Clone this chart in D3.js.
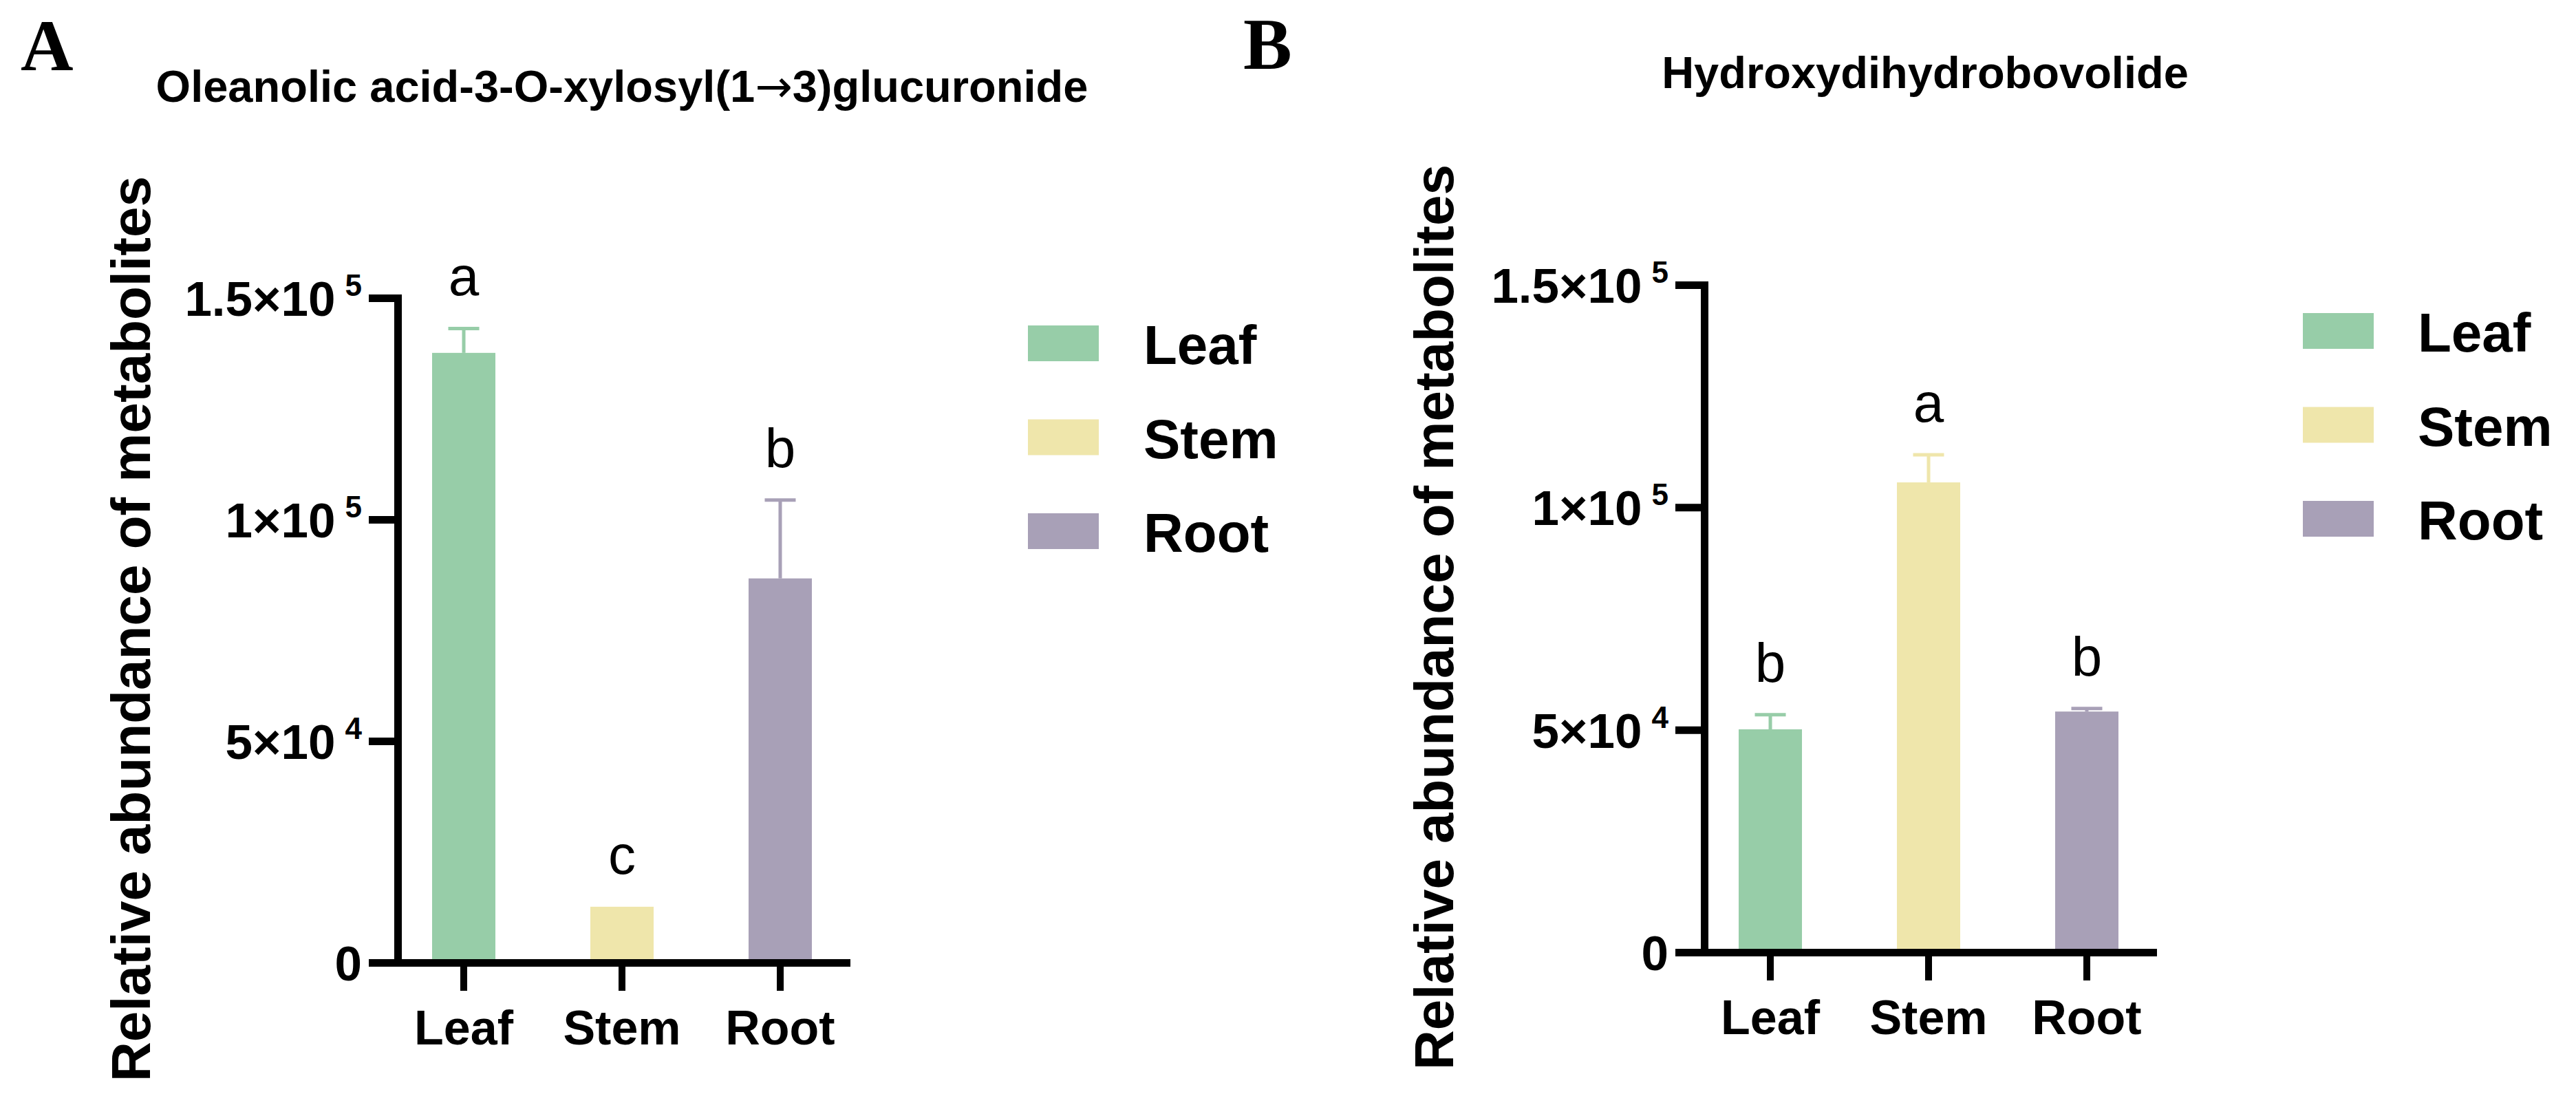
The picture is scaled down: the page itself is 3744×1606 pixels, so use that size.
<!DOCTYPE html>
<html><head><meta charset="utf-8">
<script src="https://cdn.jsdelivr.net/npm/d3@7"></script>
<style>html,body{margin:0;padding:0;background:#fff;} svg{display:block;}</style>
</head><body>
<svg id="chart" width="3744" height="1606"></svg>
<script>
const categories = ["Leaf", "Stem", "Root"];
const barColors = ["#97cda8", "#efe6ab", "#a8a0b7"];
const panelLetters = ["A", "B"];
const panelTitles = ["Oleanolic acid-3-O-xylosyl(1→3)glucuronide", "Hydroxydihydrobovolide"];
const yAxisTitle = "Relative abundance of metabolites";
const yTickValues = [0, 50000, 100000, 150000];
const yTickBase = ["0", "5×10", "1×10", "1.5×10"];
const yTickExp = ["", "4", "5", "5"];
const meansA = [137600, 12600, 86700];
const errorsA = [5500, 0, 17700];
const sigA = ["a", "c", "b"];
const meansB = [50100, 105600, 54100];
const errorsB = [3300, 6200, 700];
const sigB = ["b", "a", "b"];

const svg = d3.select("#chart");
svg.append("rect").attr("width", 3744).attr("height", 1606).attr("fill", "#fff");
const SANS = "'Liberation Sans', Arial, Helvetica, sans-serif";
const SERIF = "'Liberation Serif', 'Times New Roman', serif";

const layouts = [
  {axisX: 578, y0: 1399, yTop: 433, titleY: 148, titleX: 904, letterX: 30, letterY: 102, legX: 1494, legTextX: 1662, legY: 473, yTitleX: 218},
  {axisX: 2477, y0: 1384, yTop: 414, titleY: 128, titleX: 2798, letterX: 1807, letterY: 100, legX: 3347, legTextX: 3514, legY: 455, yTitleX: 2112}
];
const panels = [
  {means: meansA, errors: errorsA, sig: sigA},
  {means: meansB, errors: errorsB, sig: sigB}
];

panels.forEach((p, pi) => {
  const L = layouts[pi];
  const g = svg.append("g");
  const y = d3.scaleLinear().domain([0, 150000]).range([L.y0, L.yTop]);
  const x = d3.scaleBand().domain(categories).range([L.axisX, L.axisX + 652])
    .paddingInner(0.6).paddingOuter(0.2175);
  const bw = x.bandwidth();

  g.selectAll("rect.bar").data(categories).enter().append("rect")
    .attr("class", "bar")
    .attr("x", d => x(d)).attr("width", bw)
    .attr("y", (d, i) => y(p.means[i]))
    .attr("height", (d, i) => L.y0 - y(p.means[i]))
    .attr("fill", (d, i) => barColors[i]);

  categories.forEach((c, i) => {
    const e = p.errors[i];
    if (e <= 0) return;
    const cx = x(c) + bw / 2;
    g.append("line").attr("x1", cx).attr("x2", cx)
      .attr("y1", y(p.means[i])).attr("y2", y(p.means[i] + e))
      .attr("stroke", barColors[i]).attr("stroke-width", 5);
    g.append("line").attr("x1", cx - 22.5).attr("x2", cx + 22.5)
      .attr("y1", y(p.means[i] + e)).attr("y2", y(p.means[i] + e))
      .attr("stroke", barColors[i]).attr("stroke-width", 5);
  });

  g.selectAll("text.sig").data(categories).enter().append("text")
    .attr("class", "sig")
    .attr("x", d => x(d) + bw / 2)
    .attr("y", (d, i) => y(p.means[i] + p.errors[i]) - 48)
    .attr("text-anchor", "middle")
    .attr("font-family", SANS).attr("font-size", 80)
    .text((d, i) => p.sig[i]);

  const ya = g.append("g").attr("transform", `translate(${L.axisX},0)`)
    .call(d3.axisLeft(y).tickValues(yTickValues).tickSize(42).tickSizeOuter(0).tickPadding(10)
      .tickFormat(d => yTickBase[yTickValues.indexOf(d)]));
  ya.select(".domain").attr("stroke", "#000").attr("stroke-width", 11).attr("stroke-linecap", "square");
  ya.selectAll(".tick line").attr("stroke", "#000").attr("stroke-width", 11);
  ya.selectAll(".tick text")
    .attr("font-family", SANS).attr("font-size", 71).attr("font-weight", "bold")
    .attr("fill", "#000").attr("dy", "0.36em")
    .each(function(d) {
      const ex = yTickExp[yTickValues.indexOf(d)];
      if (ex) {
        d3.select(this).append("tspan").attr("font-size", 44).attr("dx", 14).attr("dy", -29).text(ex);
      }
    });

  const xa = g.append("g").attr("transform", `translate(0,${L.y0})`)
    .call(d3.axisBottom(x).tickSize(41).tickSizeOuter(0).tickPadding(28));
  xa.select(".domain").attr("stroke", "#000").attr("stroke-width", 11).attr("stroke-linecap", "square");
  xa.selectAll(".tick line").attr("stroke", "#000").attr("stroke-width", 10);
  xa.selectAll(".tick text")
    .attr("font-family", SANS).attr("font-size", 70).attr("font-weight", "bold").attr("fill", "#000");

  g.append("text")
    .attr("transform", `translate(${L.yTitleX},${(L.y0 + L.yTop) / 2 - 2}) rotate(-90)`)
    .attr("text-anchor", "middle")
    .attr("font-family", SANS).attr("font-size", 80).attr("font-weight", "bold")
    .text(yAxisTitle);

  const t = g.append("text").attr("x", L.titleX).attr("y", L.titleY)
    .attr("text-anchor", "middle")
    .attr("font-family", SANS).attr("font-size", 65).attr("font-weight", "bold");
  panelTitles[pi].split(/(→)/).forEach(part => {
    if (!part) return;
    const ts = t.append("tspan").text(part);
    if (part === "→") ts.attr("font-family", "'DejaVu Sans', sans-serif").attr("font-weight", "normal");
  });

  g.append("text").attr("x", L.letterX).attr("y", L.letterY)
    .attr("font-family", SERIF).attr("font-size", 106).attr("font-weight", "bold")
    .text(panelLetters[pi]);

  const leg = g.append("g");
  categories.forEach((c, i) => {
    const top = L.legY + i * 136.5;
    leg.append("rect").attr("x", L.legX).attr("y", top).attr("width", 103).attr("height", 52)
      .attr("fill", barColors[i]);
    leg.append("text").attr("x", L.legTextX).attr("y", top + 26 + 30)
      .attr("font-family", SANS).attr("font-size", 80).attr("font-weight", "bold")
      .text(c);
  });
});
</script>
</body></html>
